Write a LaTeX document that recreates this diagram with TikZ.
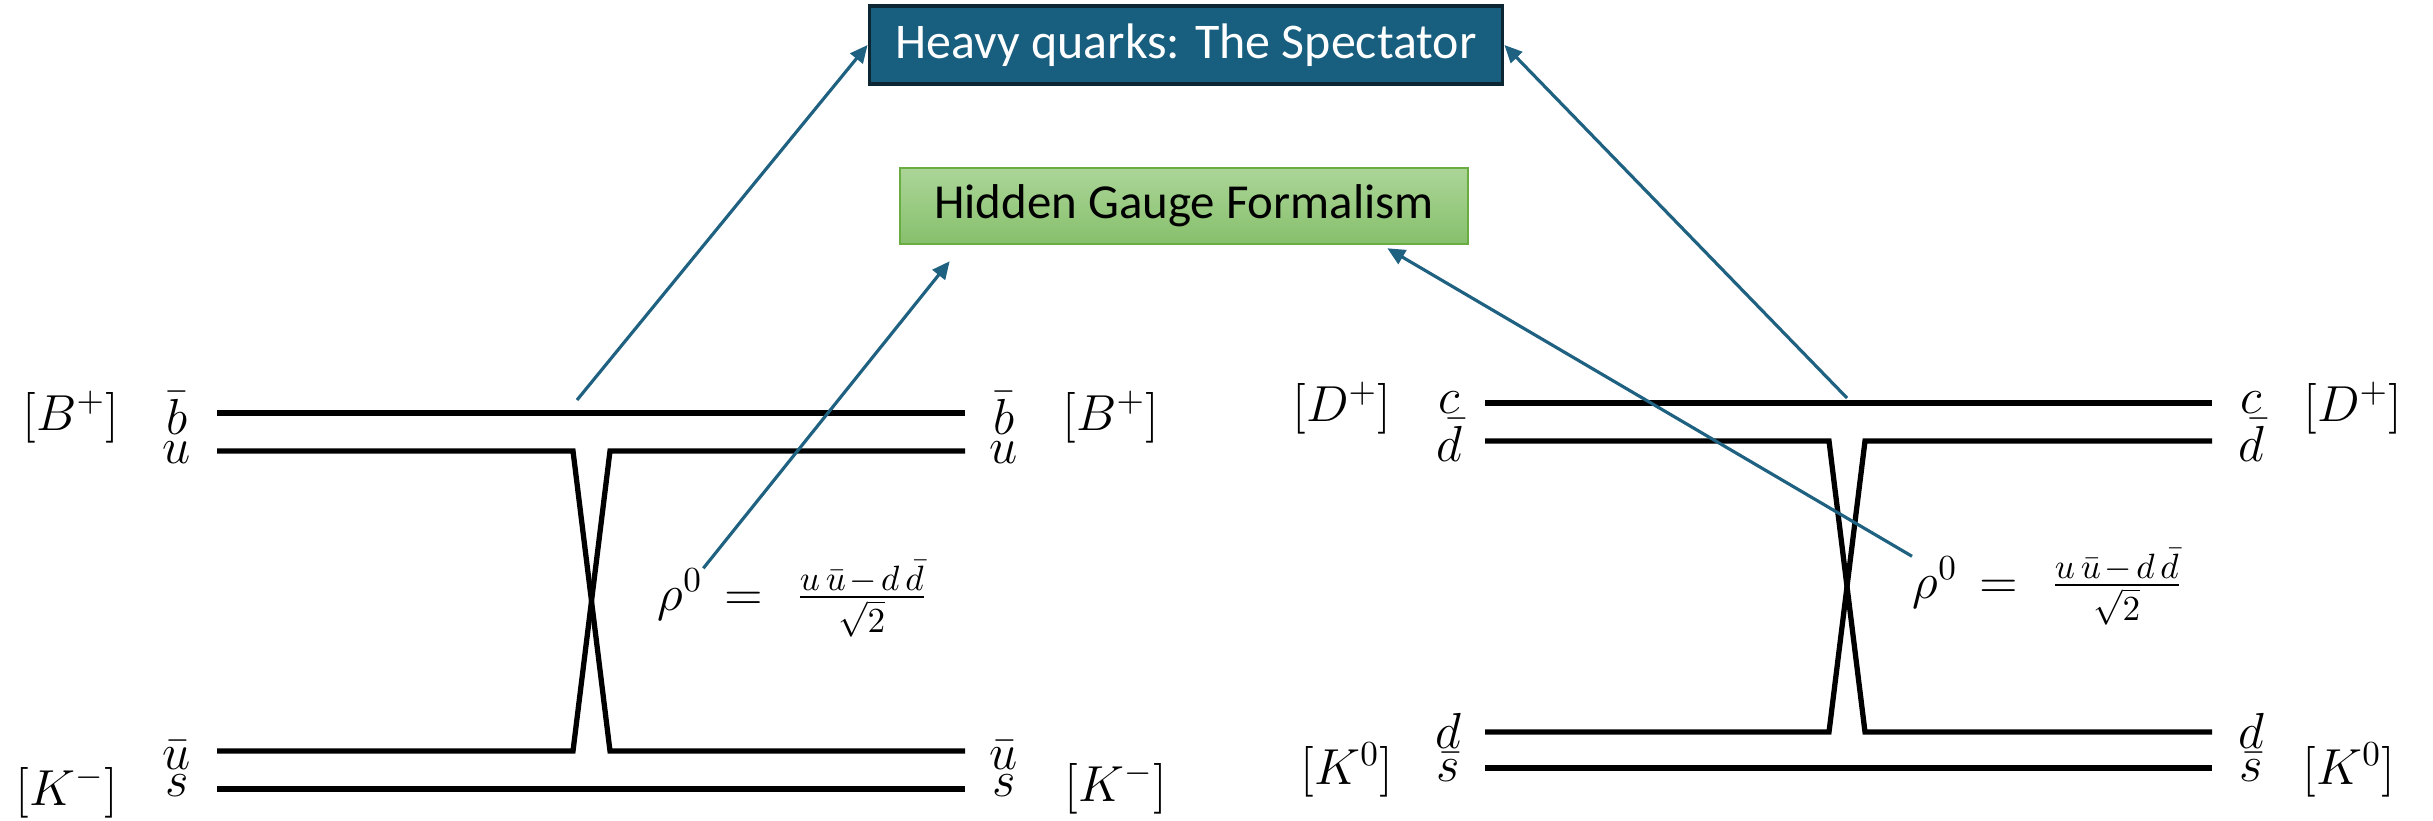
\documentclass[tikz,border=0pt]{standalone}
\usepackage{amsmath}
\usepackage{fontspec}
\newfontfamily\boxfont{Carlito}
\usetikzlibrary{arrows.meta}
\definecolor{specblue}{RGB}{24,94,126}
\definecolor{specedge}{RGB}{13,38,52}
\definecolor{linkblue}{RGB}{31,97,128}
\definecolor{gaugetop}{RGB}{172,213,152}
\definecolor{gaugebot}{RGB}{134,192,108}
\definecolor{gaugeedge}{RGB}{106,171,66}

\begin{document}
\begin{tikzpicture}[x=0.01cm,y=-0.01cm,
    quark/.style={line width=1.5pt},
    lab/.style={inner sep=0pt,font=\fontsize{14}{17}\selectfont},
    link/.style={draw=linkblue,line width=0.9pt,-{Triangle[length=5pt,width=4.5pt]}}]
  \useasboundingbox (0,0) rectangle (2433,820);

  % the two text boxes
  \node[draw=specedge,line width=1pt,fill=specblue,text=white,
    minimum width=6.33cm,minimum height=0.78cm,
    font=\boxfont\fontsize{14.2}{17}\selectfont] (heavy) at (1186,45) {Heavy quarks: The Spectator};
  \node[draw=gaugeedge,line width=0.7pt,top color=gaugetop,bottom color=gaugebot,
    minimum width=5.68cm,minimum height=0.76cm,
    font=\boxfont\fontsize{13.9}{17}\selectfont] (gauge) at (1184,206) {Hidden Gauge Formalism};

  % B+ K- -> B+ K-
  \draw[quark] (217,413) -- (965,413);
  \draw[quark] (217,451) -- (573,451) -- (610,751) -- (965,751);
  \draw[quark] (965,451) -- (610,451) -- (573,751) -- (217,751);
  \draw[quark] (217,789) -- (965,789);
  \node[lab] (bplusL) at (71,417) {$[B^+]$};
  \node[lab] (bbarL) at (177,413) {$\bar{b}$};
  \node[lab] (uL) at (177,453) {$u$};
  \node[lab] (bbarR) at (1004,413) {$\bar{b}$};
  \node[lab] (uR) at (1004,453) {$u$};
  \node[lab] (bplusR) at (1111,417) {$[B^+]$};
  \node[lab] (kminusL) at (67,792) {$[K^-]$};
  \node[lab] (ubarL) at (177,755) {$\bar{u}$};
  \node[lab] (sL) at (177,786) {$s$};
  \node[lab] (ubarR) at (1004,755) {$\bar{u}$};
  \node[lab] (sR) at (1004,786) {$s$};
  \node[lab] (kminusR) at (1116,788) {$[K^-]$};
  \node[lab,anchor=base west] (rhoL) at (657,610) {$\rho^0$};
  \node[lab,anchor=base west] (rhoLval) at ([xshift=0.2cm]rhoL.base east)
    {$=\ \hspace{0.03cm}\frac{u\,\bar{u}\mkern2mu-\mkern2mu d\,\bar{d}}{\sqrt{2}}$};

  % D+ K0 -> D+ K0
  \draw[quark] (1485,403) -- (2212,403);
  \draw[quark] (1485,441) -- (1829,441) -- (1865,732) -- (2212,732);
  \draw[quark] (2212,441) -- (1865,441) -- (1829,732) -- (1485,732);
  \draw[quark] (1485,768) -- (2212,768);
  \node[lab] (dplusL) at (1342,408) {$[D^+]$};
  \node[lab] (cL) at (1449,403) {$c$};
  \node[lab] (dbarL) at (1449,440) {$\bar{d}$};
  \node[lab] (cR) at (2251,403) {$c$};
  \node[lab] (dbarR) at (2251,440) {$\bar{d}$};
  \node[lab] (dplusR) at (2353,408) {$[D^+]$};
  \node[lab] (kzeroL) at (1347,770) {$[K^0]$};
  \node[lab] (dL) at (1448,731) {$d$};
  \node[lab] (sbarL) at (1448,767) {$\bar{s}$};
  \node[lab] (dR) at (2251,731) {$d$};
  \node[lab] (sbarR) at (2251,767) {$\bar{s}$};
  \node[lab] (kzeroR) at (2349,770) {$[K^0]$};
  \node[lab,anchor=base west] (rhoR) at (1912,598) {$\rho^0$};
  \node[lab,anchor=base west] (rhoRval) at ([xshift=0.2cm]rhoR.base east)
    {$=\ \hspace{0.03cm}\frac{u\,\bar{u}\mkern2mu-\mkern2mu d\,\bar{d}}{\sqrt{2}}$};

  % arrows to the boxes
  \coordinate (specL) at (577,400);
  \coordinate (specR) at (1847,398);
  \draw[link] (specL) -- (heavy.west);
  \draw[link] (specR) -- (heavy.east);
  \draw[link] (rhoL.north east) -- ([shift={(0.51cm,-0.16cm)}]gauge.south west);
  \draw[link] (rhoR.north west) -- ([shift={(-0.82cm,-0.03cm)}]gauge.south east);
\end{tikzpicture}
\end{document}
